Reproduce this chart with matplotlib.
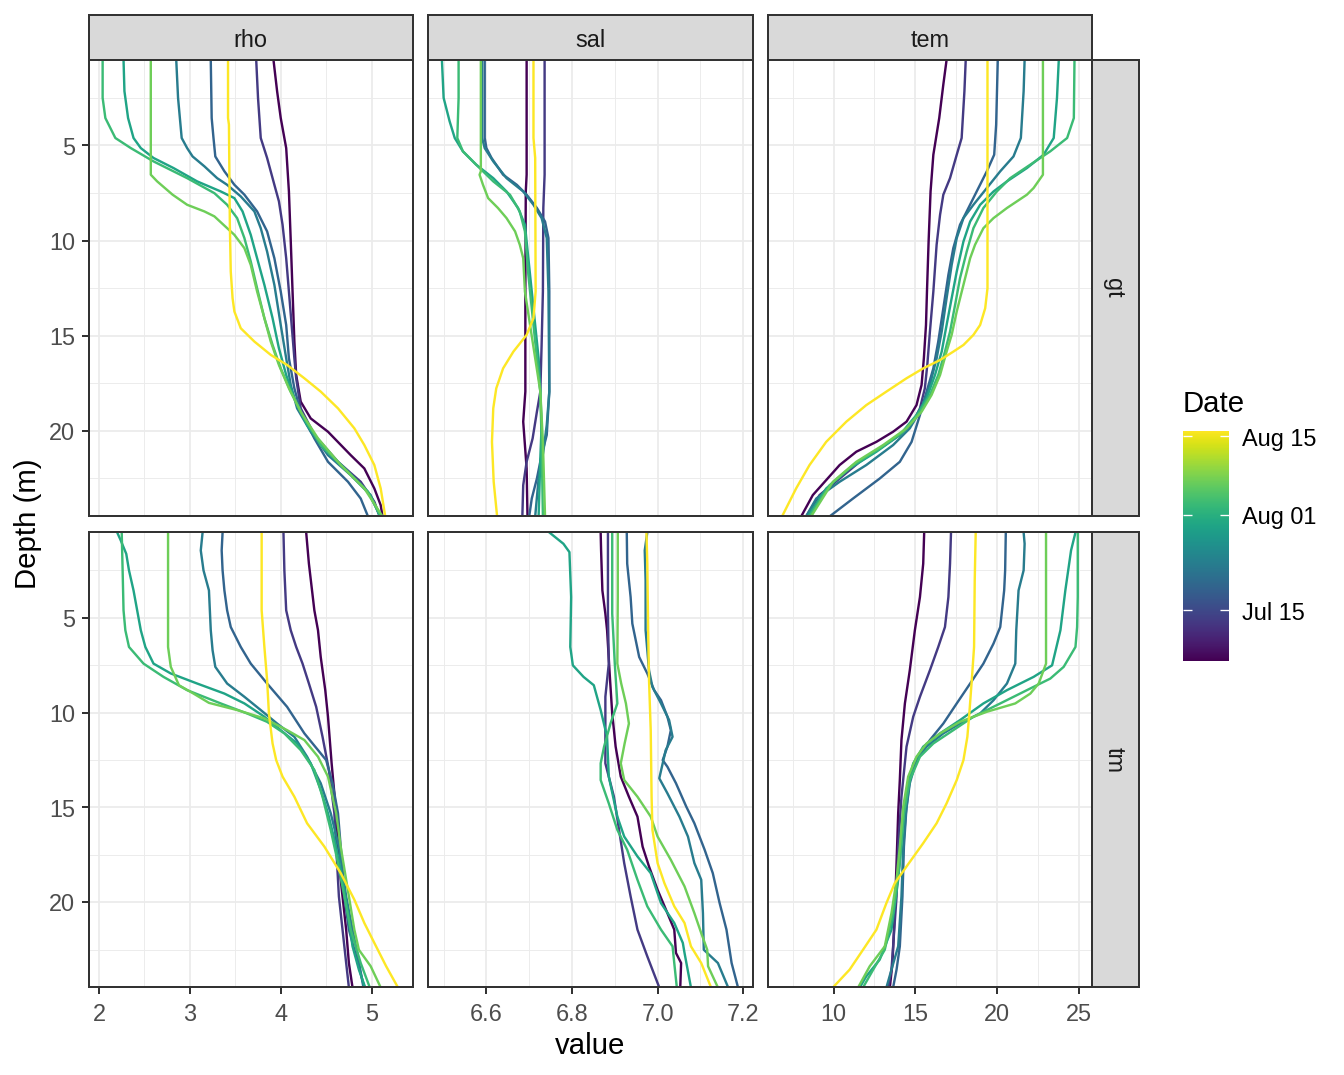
import numpy as np
import matplotlib
matplotlib.use("Agg")
import matplotlib.pyplot as plt
from matplotlib.ticker import FixedLocator, NullFormatter

plt.rcParams['font.family'] = ['Liberation Sans', 'DejaVu Sans']

# sampling dates of the 8 profiles (colour scale)
dates = ['2021-07-06', '2021-07-13', '2021-07-19', '2021-07-23',
         '2021-07-30', '2021-08-03', '2021-08-07', '2021-08-16']
legend_breaks = ['2021-07-15', '2021-08-01', '2021-08-15']
legend_labels = ['Jul 15', 'Aug 01', 'Aug 15']

sites = ['gt', 'tm']
variables = ['rho', 'sal', 'tem']

# ---- site gt ----
gt_rho_depth = [
    [0.5, 2.15, 3.56, 5.14, 7.42, 10.0, 12.68, 15.31, 17.07, 18.47, 19.35, 20.05, 21.28, 21.98, 23.03, 23.91, 24.5],
    [0.5, 2.5, 4.61, 5.66, 7.07, 7.94, 9.17, 10.93, 12.68, 14.44, 16.19, 17.24, 18.82, 20.22, 21.63, 22.68, 23.73, 24.5],
    [0.5, 3.56, 4.61, 5.58, 6.36, 7.07, 7.59, 8.47, 9.52, 10.93, 12.68, 14.44, 16.19, 17.77, 19.0, 20.4, 21.63, 22.68, 23.56, 24.5],
    [0.5, 2.5, 3.56, 4.61, 5.14, 5.58, 6.1, 6.72, 7.07, 7.68, 8.47, 9.35, 10.58, 12.33, 14.44, 16.19, 17.59, 18.82, 20.05, 21.28, 22.33, 23.38, 24.5],
    [0.5, 2.15, 3.56, 4.61, 5.14, 5.66, 6.19, 6.89, 7.42, 7.77, 8.47, 9.7, 10.93, 12.33, 14.08, 15.66, 17.07, 18.29, 19.7, 20.93, 22.15, 23.21, 24.5],
    [0.5, 2.5, 3.56, 4.61, 5.14, 5.84, 6.72, 7.51, 8.12, 8.82, 9.87, 11.1, 12.51, 14.08, 15.49, 16.72, 17.94, 19.35, 20.75, 21.98, 23.21, 24.5],
    [0.5, 6.54, 6.89, 7.59, 8.12, 8.47, 8.73, 9.26, 9.7, 10.4, 11.28, 12.68, 14.08, 15.31, 16.54, 17.77, 19.0, 20.4, 21.8, 23.03, 24.5],
    [0.5, 3.56, 3.91, 9.17, 11.63, 13.03, 13.73, 14.61, 15.31, 16.01, 16.54, 17.24, 17.94, 18.82, 19.87, 20.75, 21.8, 23.03, 24.5],
]
gt_rho_value = [
    [3.92, 3.96, 4.00, 4.06, 4.09, 4.11, 4.13, 4.15, 4.17, 4.22, 4.33, 4.52, 4.77, 4.92, 5.03, 5.10, 5.12],
    [3.73, 3.75, 3.78, 3.85, 3.93, 3.98, 4.02, 4.06, 4.09, 4.12, 4.15, 4.17, 4.22, 4.37, 4.63, 4.88, 5.03, 5.09],
    [3.23, 3.24, 3.26, 3.28, 3.38, 3.49, 3.60, 3.74, 3.85, 3.93, 4.00, 4.06, 4.09, 4.15, 4.22, 4.37, 4.52, 4.74, 4.88, 4.96],
    [2.85, 2.87, 2.89, 2.91, 2.97, 3.03, 3.16, 3.30, 3.41, 3.56, 3.71, 3.78, 3.85, 3.93, 4.00, 4.06, 4.11, 4.18, 4.33, 4.52, 4.77, 4.99, 5.09],
    [2.27, 2.28, 2.32, 2.38, 2.46, 2.60, 2.82, 3.08, 3.34, 3.49, 3.58, 3.67, 3.74, 3.82, 3.91, 3.98, 4.06, 4.15, 4.29, 4.48, 4.74, 4.96, 5.10],
    [2.04, 2.04, 2.07, 2.18, 2.35, 2.60, 2.97, 3.27, 3.41, 3.52, 3.60, 3.67, 3.74, 3.82, 3.91, 4.00, 4.11, 4.26, 4.44, 4.70, 4.96, 5.10],
    [2.57, 2.57, 2.64, 2.81, 2.97, 3.16, 3.27, 3.39, 3.49, 3.60, 3.67, 3.74, 3.82, 3.89, 3.98, 4.09, 4.22, 4.41, 4.66, 4.92, 5.12],
    [3.42, 3.42, 3.43, 3.44, 3.45, 3.47, 3.49, 3.56, 3.71, 3.89, 4.07, 4.26, 4.44, 4.63, 4.81, 4.92, 5.03, 5.10, 5.15],
]

gt_sal_depth = [
    [0.5, 6.54, 7.42, 12.68, 17.94, 19.52, 20.75, 21.98, 24.5],
    [0.5, 6.54, 8.29, 12.68, 15.49, 17.94, 19.0, 20.4, 21.63, 22.86, 24.5],
    [0.5, 4.61, 5.14, 5.66, 6.54, 7.07, 7.59, 8.29, 9.0, 9.87, 12.68, 17.94, 20.22, 21.28, 22.51, 23.56, 24.5],
    [0.5, 4.61, 5.14, 5.84, 6.72, 7.42, 8.12, 8.82, 9.87, 12.68, 17.94, 19.7, 21.1, 22.51, 24.5],
    [0.5, 2.5, 3.73, 4.61, 5.31, 6.01, 6.72, 7.42, 8.29, 9.17, 10.93, 12.68, 14.44, 16.19, 17.94, 19.7, 21.45, 24.5],
    [0.5, 2.5, 4.61, 5.31, 6.01, 6.89, 7.59, 8.47, 9.52, 11.8, 14.44, 16.19, 17.94, 20.58, 24.5],
    [0.5, 6.36, 6.54, 7.07, 7.77, 8.29, 8.82, 9.52, 10.22, 10.93, 12.68, 14.44, 16.19, 17.94, 20.58, 24.5],
    [0.5, 4.61, 5.66, 12.68, 14.08, 14.96, 15.84, 16.72, 17.77, 18.82, 20.58, 22.68, 24.5],
]
gt_sal_value = [
    [6.694, 6.694, 6.692, 6.691, 6.691, 6.686, 6.690, 6.694, 6.696],
    [6.736, 6.736, 6.733, 6.732, 6.729, 6.726, 6.718, 6.708, 6.694, 6.686, 6.684],
    [6.596, 6.596, 6.600, 6.612, 6.639, 6.671, 6.694, 6.718, 6.737, 6.745, 6.747, 6.747, 6.741, 6.729, 6.718, 6.706, 6.700],
    [6.590, 6.590, 6.596, 6.616, 6.647, 6.686, 6.710, 6.729, 6.741, 6.745, 6.747, 6.741, 6.733, 6.722, 6.714],
    [6.496, 6.500, 6.514, 6.526, 6.545, 6.576, 6.616, 6.647, 6.674, 6.690, 6.698, 6.706, 6.714, 6.722, 6.726, 6.729, 6.726, 6.722],
    [6.535, 6.535, 6.532, 6.545, 6.576, 6.616, 6.655, 6.678, 6.690, 6.698, 6.710, 6.718, 6.726, 6.729, 6.732],
    [6.587, 6.587, 6.584, 6.592, 6.604, 6.627, 6.647, 6.667, 6.678, 6.686, 6.690, 6.702, 6.714, 6.726, 6.732, 6.737],
    [6.710, 6.710, 6.714, 6.715, 6.710, 6.694, 6.663, 6.639, 6.623, 6.616, 6.613, 6.617, 6.625],
]

gt_tem_depth = [
    [0.5, 1.8, 3.56, 5.49, 7.42, 10.05, 12.68, 14.44, 16.19, 17.59, 18.65, 19.52, 20.05, 20.58, 21.1, 21.8, 22.59, 23.38, 24.5],
    [0.5, 2.15, 4.61, 5.49, 6.72, 7.59, 8.65, 10.22, 12.68, 14.79, 16.54, 17.77, 18.82, 19.52, 20.22, 20.93, 21.63, 22.51, 23.38, 24.5],
    [0.5, 3.91, 5.49, 6.36, 7.42, 8.47, 9.17, 10.4, 11.8, 13.56, 15.31, 16.72, 17.94, 19.17, 20.58, 21.63, 22.51, 23.56, 24.5],
    [0.5, 2.15, 4.61, 5.58, 6.36, 7.24, 8.12, 8.82, 9.87, 11.28, 13.03, 14.79, 16.19, 17.59, 18.82, 19.87, 20.75, 21.8, 22.68, 23.56, 24.5],
    [0.5, 2.5, 4.61, 5.49, 6.19, 6.89, 7.42, 8.12, 9.0, 10.05, 11.63, 13.03, 14.44, 15.84, 17.07, 18.29, 19.17, 20.22, 21.1, 21.98, 23.03, 24.5],
    [0.5, 3.56, 4.61, 5.31, 6.01, 6.72, 7.42, 8.29, 9.35, 10.58, 11.98, 13.38, 14.79, 15.84, 17.07, 18.12, 19.0, 20.05, 20.93, 21.8, 22.86, 24.5],
    [0.5, 6.54, 7.24, 7.59, 8.29, 8.82, 9.35, 10.22, 10.93, 12.33, 13.73, 14.96, 15.84, 17.07, 18.12, 19.0, 19.87, 20.75, 21.63, 22.68, 24.5],
    [0.5, 12.51, 13.56, 14.44, 14.96, 15.49, 15.84, 16.28, 16.72, 17.24, 17.94, 18.65, 19.52, 20.58, 21.8, 23.03, 24.5],
]
gt_tem_value = [
    [16.91, 16.71, 16.46, 16.10, 15.93, 15.81, 15.71, 15.65, 15.52, 15.38, 15.07, 14.46, 13.64, 12.62, 11.39, 10.37, 9.55, 8.73, 8.02],
    [18.08, 18.00, 17.83, 17.53, 17.12, 16.71, 16.51, 16.30, 16.10, 15.89, 15.73, 15.58, 15.28, 14.87, 14.05, 12.82, 11.60, 10.37, 9.14, 8.32],
    [20.04, 19.94, 19.82, 19.37, 18.75, 18.14, 17.73, 17.32, 17.02, 16.71, 16.40, 16.10, 15.69, 15.28, 14.77, 14.05, 12.82, 11.19, 9.76],
    [21.68, 21.62, 21.45, 21.00, 20.19, 19.37, 18.55, 17.94, 17.53, 17.22, 16.91, 16.61, 16.30, 15.89, 15.38, 14.66, 13.64, 12.00, 10.37, 8.94, 8.32],
    [23.77, 23.66, 23.46, 22.84, 21.82, 20.60, 19.78, 18.96, 18.35, 17.94, 17.53, 17.22, 16.91, 16.61, 16.20, 15.69, 15.07, 14.05, 12.62, 10.98, 9.55, 8.43],
    [24.73, 24.69, 24.28, 23.25, 22.03, 20.80, 19.98, 19.16, 18.55, 18.14, 17.73, 17.43, 17.12, 16.81, 16.40, 15.89, 15.28, 14.26, 12.82, 11.19, 9.76, 8.53],
    [22.80, 22.80, 22.23, 21.82, 20.60, 19.78, 19.16, 18.65, 18.35, 17.94, 17.53, 17.22, 16.91, 16.51, 15.99, 15.38, 14.46, 13.03, 11.39, 9.96, 8.63],
    [19.41, 19.41, 19.27, 18.96, 18.55, 17.94, 17.32, 16.51, 15.48, 14.46, 13.23, 12.00, 10.78, 9.55, 8.53, 7.71, 6.85],
]

# ---- site tm ----
tm_rho_depth = [
    [0.5, 2.15, 4.61, 5.66, 7.07, 8.82, 10.22, 12.68, 15.31, 17.94, 19.7, 21.45, 23.21, 24.5],
    [0.5, 2.5, 4.61, 5.66, 6.54, 7.42, 8.47, 9.7, 11.28, 13.03, 15.31, 17.94, 19.7, 21.45, 23.21, 24.5],
    [0.5, 1.45, 2.5, 3.56, 4.61, 5.49, 6.54, 7.42, 8.47, 9.7, 11.1, 11.98, 12.51, 13.73, 15.31, 17.07, 19.7, 21.45, 22.86, 24.5],
    [0.5, 1.45, 2.5, 3.56, 5.66, 6.72, 7.59, 8.47, 9.17, 9.87, 10.58, 11.28, 12.33, 13.73, 15.31, 17.07, 19.7, 21.45, 22.86, 24.5],
    [0.5, 0.93, 1.63, 2.5, 3.56, 4.61, 5.66, 6.54, 7.42, 7.94, 8.47, 9.0, 9.52, 10.22, 10.93, 11.63, 12.68, 14.08, 15.31, 17.07, 18.82, 20.58, 22.33, 23.56, 24.5],
    [0.5, 2.5, 4.61, 5.66, 6.54, 7.42, 8.12, 8.82, 9.52, 10.05, 10.49, 11.1, 11.98, 13.03, 14.44, 16.19, 17.94, 19.7, 21.45, 23.21, 24.5],
    [0.5, 6.54, 7.59, 8.56, 9.0, 9.49, 9.87, 10.31, 10.93, 11.45, 12.33, 13.38, 15.31, 17.07, 18.82, 21.45, 22.51, 23.38, 24.5],
    [0.5, 4.61, 6.54, 8.29, 10.05, 11.63, 12.51, 13.38, 14.44, 15.84, 17.07, 18.47, 19.87, 21.1, 22.15, 23.38, 24.5],
]
tm_rho_value = [
    [4.28, 4.31, 4.37, 4.41, 4.44, 4.49, 4.52, 4.56, 4.61, 4.64, 4.68, 4.72, 4.75, 4.79],
    [4.03, 4.04, 4.06, 4.11, 4.17, 4.24, 4.31, 4.39, 4.46, 4.53, 4.59, 4.62, 4.64, 4.68, 4.72, 4.75],
    [3.36, 3.35, 3.36, 3.38, 3.41, 3.45, 3.56, 3.67, 3.85, 4.07, 4.26, 4.41, 4.50, 4.57, 4.63, 4.66, 4.70, 4.75, 4.83, 4.92],
    [3.14, 3.12, 3.15, 3.21, 3.23, 3.25, 3.28, 3.41, 3.60, 3.78, 3.96, 4.15, 4.29, 4.44, 4.55, 4.64, 4.72, 4.79, 4.85, 4.91],
    [2.20, 2.24, 2.30, 2.33, 2.38, 2.42, 2.46, 2.51, 2.60, 2.79, 3.08, 3.38, 3.60, 3.82, 4.00, 4.18, 4.33, 4.44, 4.52, 4.61, 4.68, 4.74, 4.79, 4.86, 4.93],
    [2.25, 2.26, 2.27, 2.29, 2.33, 2.49, 2.71, 2.97, 3.34, 3.63, 3.85, 4.04, 4.22, 4.37, 4.46, 4.55, 4.63, 4.70, 4.77, 4.88, 4.98],
    [2.76, 2.76, 2.79, 2.88, 3.04, 3.21, 3.52, 3.82, 4.07, 4.26, 4.41, 4.52, 4.61, 4.66, 4.72, 4.81, 4.86, 4.99, 5.10],
    [3.79, 3.79, 3.82, 3.85, 3.87, 3.91, 3.95, 4.02, 4.15, 4.29, 4.48, 4.66, 4.81, 4.92, 5.03, 5.16, 5.29],
]

tm_sal_depth = [
    [0.5, 1.45, 3.56, 4.79, 5.66, 8.29, 10.05, 11.8, 13.38, 14.44, 15.49, 17.07, 18.12, 19.35, 20.58, 21.45, 22.68, 23.21, 24.5],
    [0.5, 4.79, 7.42, 8.29, 9.17, 12.68, 14.44, 16.19, 17.94, 19.7, 21.45, 22.86, 24.5],
    [0.5, 2.15, 3.91, 5.31, 6.19, 7.07, 7.94, 8.82, 9.35, 10.22, 10.93, 11.8, 12.51, 12.86, 13.73, 14.96, 15.84, 17.24, 18.47, 20.05, 21.45, 23.21, 24.5],
    [0.5, 1.45, 3.03, 5.66, 7.77, 8.65, 9.52, 10.4, 11.28, 11.98, 13.47, 14.26, 15.49, 16.54, 17.94, 18.82, 20.58, 22.51, 23.21, 24.5],
    [0.5, 1.1, 1.54, 3.91, 6.54, 7.51, 8.12, 8.56, 9.87, 11.28, 13.38, 15.49, 16.54, 17.59, 18.47, 20.05, 21.1, 22.15, 22.68, 24.5],
    [0.5, 4.79, 7.42, 9.52, 10.58, 11.8, 12.68, 13.56, 14.79, 16.19, 17.24, 18.82, 20.22, 21.45, 22.33, 23.21, 24.5],
    [0.5, 3.91, 7.42, 8.47, 9.52, 10.58, 11.63, 12.68, 13.56, 14.44, 15.49, 16.54, 17.77, 19.17, 20.58, 21.63, 22.51, 23.38, 24.5],
    [0.5, 2.15, 5.66, 8.29, 10.93, 14.44, 16.19, 17.94, 19.0, 20.22, 21.1, 22.33, 23.21, 24.5],
]
tm_sal_value = [
    [6.867, 6.868, 6.871, 6.878, 6.882, 6.889, 6.894, 6.902, 6.914, 6.933, 6.953, 6.965, 6.980, 7.000, 7.023, 7.039, 7.043, 7.055, 7.053],
    [6.884, 6.884, 6.886, 6.882, 6.878, 6.878, 6.898, 6.910, 6.922, 6.937, 6.953, 6.976, 7.004],
    [6.928, 6.929, 6.937, 6.941, 6.949, 6.957, 6.976, 6.992, 7.008, 7.023, 7.031, 7.023, 7.012, 7.023, 7.043, 7.067, 7.086, 7.110, 7.129, 7.145, 7.161, 7.173, 7.188],
    [6.976, 6.970, 6.972, 6.972, 6.980, 6.988, 7.008, 7.027, 7.035, 7.019, 7.004, 7.023, 7.051, 7.071, 7.086, 7.102, 7.106, 7.108, 7.141, 7.165],
    [6.747, 6.780, 6.794, 6.798, 6.796, 6.802, 6.827, 6.851, 6.867, 6.882, 6.886, 6.906, 6.922, 6.953, 6.984, 7.008, 7.039, 7.059, 7.063, 7.078],
    [6.894, 6.894, 6.900, 6.906, 6.890, 6.875, 6.867, 6.867, 6.886, 6.906, 6.929, 6.953, 6.976, 7.008, 7.035, 7.039, 7.045],
    [6.907, 6.907, 6.906, 6.915, 6.926, 6.933, 6.923, 6.914, 6.922, 6.953, 6.984, 7.000, 7.031, 7.063, 7.086, 7.102, 7.116, 7.118, 7.141],
    [6.974, 6.976, 6.978, 6.980, 6.984, 6.986, 6.988, 7.000, 7.016, 7.039, 7.063, 7.078, 7.102, 7.125],
]

tm_tem_depth = [
    [0.5, 2.15, 3.91, 5.66, 7.77, 9.52, 11.45, 13.56, 15.31, 17.94, 20.58, 23.21, 24.5],
    [0.5, 2.15, 3.91, 5.49, 6.54, 7.77, 9.17, 10.22, 11.8, 14.44, 17.07, 19.7, 22.33, 23.56, 24.5],
    [0.5, 2.5, 3.56, 5.49, 6.36, 7.42, 8.47, 9.52, 10.58, 11.45, 12.33, 13.56, 14.96, 17.07, 19.7, 22.33, 23.56, 24.5],
    [0.5, 1.1, 2.5, 3.56, 5.66, 7.42, 8.47, 9.35, 10.05, 10.58, 11.1, 11.8, 12.51, 13.73, 15.31, 17.07, 19.7, 22.33, 23.56, 24.5],
    [0.5, 1.45, 3.56, 5.66, 7.51, 8.12, 8.82, 9.52, 10.4, 11.1, 11.8, 12.68, 14.08, 16.19, 18.82, 21.45, 23.03, 23.91, 24.5],
    [0.5, 3.91, 5.49, 6.54, 7.59, 8.21, 8.73, 9.52, 10.22, 10.93, 11.63, 12.33, 13.56, 15.31, 17.94, 20.58, 22.51, 23.56, 24.5],
    [0.5, 7.42, 8.47, 9.0, 9.52, 9.96, 10.49, 11.1, 11.63, 12.33, 13.38, 14.96, 17.07, 18.82, 20.58, 22.33, 23.38, 24.5],
    [0.5, 3.03, 6.54, 8.29, 10.05, 11.28, 12.51, 13.56, 14.79, 15.84, 16.89, 18.12, 19.0, 20.05, 21.45, 22.51, 23.56, 24.5],
]
tm_tem_value = [
    [15.54, 15.48, 15.28, 14.97, 14.66, 14.36, 14.15, 14.05, 13.95, 13.85, 13.74, 13.60, 13.44],
    [17.18, 17.12, 17.02, 16.81, 16.40, 15.89, 15.28, 14.87, 14.46, 14.15, 13.95, 13.85, 13.64, 13.54, 13.34],
    [20.53, 20.49, 20.43, 20.19, 19.78, 19.16, 18.35, 17.53, 16.71, 15.89, 15.18, 14.66, 14.46, 14.30, 14.21, 14.05, 13.85, 13.64],
    [21.62, 21.68, 21.62, 21.31, 21.17, 21.11, 20.60, 19.78, 18.96, 17.73, 16.71, 15.69, 15.07, 14.66, 14.42, 14.26, 14.15, 13.95, 13.54, 13.23],
    [24.79, 24.52, 24.17, 23.87, 23.36, 22.23, 20.60, 19.16, 17.73, 16.51, 15.48, 14.87, 14.46, 14.21, 13.95, 13.54, 12.82, 12.00, 11.60],
    [24.93, 24.93, 24.89, 24.79, 24.07, 23.25, 22.03, 20.19, 18.55, 17.32, 16.10, 15.28, 14.66, 14.30, 14.05, 13.64, 13.13, 12.42, 11.80],
    [22.99, 22.99, 22.54, 22.03, 21.11, 19.37, 17.73, 16.51, 15.69, 15.07, 14.56, 14.26, 14.05, 13.85, 13.54, 13.13, 12.21, 11.50],
    [18.69, 18.63, 18.59, 18.45, 18.30, 18.18, 17.94, 17.53, 16.91, 16.30, 15.48, 14.46, 13.74, 13.23, 12.62, 11.80, 10.98, 9.96],
]

profiles = {
    ('gt', 'rho'): (gt_rho_depth, gt_rho_value),
    ('gt', 'sal'): (gt_sal_depth, gt_sal_value),
    ('gt', 'tem'): (gt_tem_depth, gt_tem_value),
    ('tm', 'rho'): (tm_rho_depth, tm_rho_value),
    ('tm', 'sal'): (tm_sal_depth, tm_sal_value),
    ('tm', 'tem'): (tm_tem_depth, tm_tem_value),
}

# axis scales per column (free x)
x_limits = {'rho': (1.89, 5.45), 'sal': (6.4635, 7.223), 'tem': (5.99, 25.77)}
x_major = {'rho': [2, 3, 4, 5], 'sal': [6.6, 6.8, 7.0, 7.2], 'tem': [10, 15, 20, 25]}
x_major_labels = {'rho': ['2', '3', '4', '5'], 'sal': ['6.6', '6.8', '7.0', '7.2'],
                  'tem': ['10', '15', '20', '25']}
x_minor = {'rho': [2.5, 3.5, 4.5], 'sal': [6.5, 6.7, 6.9, 7.1], 'tem': [7.5, 12.5, 17.5, 22.5]}
y_major = [5, 10, 15, 20]
y_minor = [2.5, 7.5, 12.5, 17.5, 22.5]
y_limits = (24.5, 0.5)

# ---- figure ----
W, H = 1344, 1075
fig = plt.figure(figsize=(7, 5.6), dpi=192)


def box(x0, y0, x1, y1):
    return [x0 / W, 1 - y1 / H, (x1 - x0) / W, (y1 - y0) / H]


col_x = [(89, 412.5), (428, 753), (768, 1091.5)]
row_y = [(60, 516.5), (532.5, 987.5)]
border = '#333333'
day = lambda s: np.datetime64(s, 'D').astype(int)
dnum = np.array([day(d) for d in dates])
dmin, dmax = dnum.min(), dnum.max()
cmap = plt.get_cmap('viridis')

for i, site in enumerate(sites):
    for j, var in enumerate(variables):
        ax = fig.add_axes(box(col_x[j][0], row_y[i][0], col_x[j][1], row_y[i][1]))
        depths, values = profiles[(site, var)]
        for k in range(len(dates)):
            c = cmap((dnum[k] - dmin) / (dmax - dmin))
            ax.plot(values[k], depths[k], color=c, lw=0.9, solid_joinstyle='round')
        ax.set_xlim(*x_limits[var])
        ax.set_ylim(*y_limits)
        ax.xaxis.set_major_locator(FixedLocator(x_major[var]))
        ax.xaxis.set_minor_locator(FixedLocator(x_minor[var]))
        ax.yaxis.set_major_locator(FixedLocator(y_major))
        ax.yaxis.set_minor_locator(FixedLocator(y_minor))
        ax.xaxis.set_minor_formatter(NullFormatter())
        ax.yaxis.set_minor_formatter(NullFormatter())
        ax.set_xticklabels(x_major_labels[var])
        ax.grid(which='major', color='#EBEBEB', lw=0.65)
        ax.grid(which='minor', color='#EBEBEB', lw=0.35)
        ax.set_axisbelow(True)
        for s in ax.spines.values():
            s.set_color(border)
            s.set_linewidth(0.75)
        ax.tick_params(which='minor', length=0)
        ax.tick_params(which='major', length=2.75, width=0.75, color=border,
                       labelsize=8.8, labelcolor='#4D4D4D', pad=2.4,
                       bottom=(i == 1), labelbottom=(i == 1),
                       left=(j == 0), labelleft=(j == 0))
        ax.tick_params(axis='x', pad=3.0)

        # top strips
        if i == 0:
            sa = fig.add_axes(box(col_x[j][0], 15, col_x[j][1], 60))
            sa.set_facecolor('#D9D9D9')
            sa.set_xticks([])
            sa.set_yticks([])
            for s in sa.spines.values():
                s.set_color(border)
                s.set_linewidth(0.75)
            sa.text(0.5, 0.44, var, ha='center', va='center', fontsize=8.8,
                    color='#1A1A1A', transform=sa.transAxes)

    # right strips
    ra = fig.add_axes(box(1091.5, row_y[i][0], 1139, row_y[i][1]))
    ra.set_facecolor('#D9D9D9')
    ra.set_xticks([])
    ra.set_yticks([])
    for s in ra.spines.values():
        s.set_color(border)
        s.set_linewidth(0.75)
    ra.text(0.47, 0.5, site, ha='center', va='center', fontsize=8.8, rotation=-90,
            color='#1A1A1A', transform=ra.transAxes)

fig.text(590.5 / W, 1 - 1046 / H, 'value', ha='center', va='center', fontsize=11)
fig.text(28 / W, 1 - 523.5 / H, 'Depth (m)', ha='center', va='center',
         fontsize=11, rotation=90)

# ---- colour bar legend ----
cax = fig.add_axes(box(1183, 431, 1229, 661))
grad = np.linspace(0, 1, 300).reshape(-1, 1)
cax.imshow(grad, aspect='auto', cmap=cmap, origin='lower',
           extent=[0, 1, dmin, dmax])
cax.set_xlim(0, 1)
cax.set_ylim(dmin, dmax)
cax.set_xticks([])
cax.set_yticks([day(b) for b in legend_breaks])
cax.set_yticklabels(legend_labels)
cax.tick_params(axis='y', direction='in', left=True, right=True,
                labelleft=False, labelright=True, color='white',
                length=3.4, width=0.5, labelsize=8.8, labelcolor='black', pad=5)
for s in cax.spines.values():
    s.set_visible(False)
fig.text(1183 / W, 1 - 404 / H, 'Date', ha='left', va='center', fontsize=11)

fig.savefig('out.png', dpi=192)
